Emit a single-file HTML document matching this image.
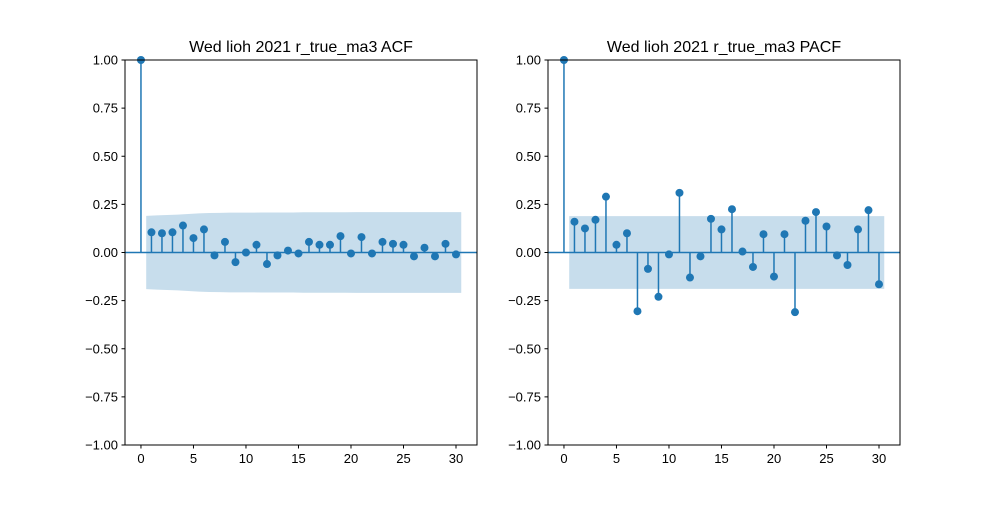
<!DOCTYPE html>
<html><head><meta charset="utf-8"><style>
body{margin:0;background:#fff;}
svg text{font-family:"Liberation Sans","DejaVu Sans",sans-serif;}
</style></head><body>
<svg id="fig" width="1000" height="500" viewBox="0 0 1000 500" xmlns="http://www.w3.org/2000/svg"></svg>
<script>
const lags = Array.from({length:31},(_,i)=>i);
const acfValues = [1,0.105,0.10,0.105,0.14,0.075,0.12,-0.015,0.055,-0.05,0.0,0.04,-0.06,-0.015,0.01,-0.005,0.055,0.04,0.04,0.085,-0.005,0.08,-0.005,0.055,0.045,0.04,-0.02,0.025,-0.02,0.045,-0.01];
const acfConf = [0.19,0.19,0.193,0.195,0.197,0.20,0.203,0.205,0.206,0.207,0.207,0.207,0.208,0.208,0.208,0.208,0.209,0.209,0.209,0.209,0.209,0.21,0.21,0.21,0.21,0.21,0.21,0.21,0.21,0.21,0.21];
const pacfValues = [1,0.16,0.125,0.17,0.29,0.04,0.10,-0.305,-0.085,-0.23,-0.01,0.31,-0.13,-0.02,0.175,0.12,0.225,0.005,-0.075,0.095,-0.125,0.095,-0.31,0.165,0.21,0.135,-0.015,-0.065,0.12,0.22,-0.165];
const pacfConf = [0.189,0.189,0.189,0.189,0.189,0.189,0.189,0.189,0.189,0.189,0.189,0.189,0.189,0.189,0.189,0.189,0.189,0.189,0.189,0.189,0.189,0.189,0.189,0.189,0.189,0.189,0.189,0.189,0.189,0.189,0.189];
const yTicks = [-1,-0.75,-0.5,-0.25,0,0.25,0.5,0.75,1];
const xTicks = [0,5,10,15,20,25,30];
const titles = ["Wed lioh 2021 r_true_ma3 ACF","Wed lioh 2021 r_true_ma3 PACF"];

const NS="http://www.w3.org/2000/svg";
const svg=document.getElementById('fig');
function mk(tag,attrs,parent){const e=document.createElementNS(NS,tag);for(const k in attrs)e.setAttribute(k,attrs[k]);(parent||svg).appendChild(e);return e;}

function panel(x0,x1,vals,conf,title,prefix){
  const y0=60,y1=445;
  const X=v=>x0+(v+1.52)/(33.52)*(x1-x0);
  const Y=v=>y0+(1-v)/2*(y1-y0);
  const g=mk('g',{});
  
  
  let up=[],dn=[];
  for(let i=1;i<lags.length;i++){up.push(X(lags[i]-0.5)+','+Y(conf[i]));dn.unshift(X(lags[i]-0.5)+','+Y(-conf[i]));}
  up.push(X(lags[lags.length-1]+0.5)+','+Y(conf[conf.length-1]));
  dn.unshift(X(lags[lags.length-1]+0.5)+','+Y(-conf[conf.length-1]));
  const band=mk('polygon',{points:up.concat(dn).join(' '),fill:'#1f77b4','fill-opacity':0.25},g);
  
  
  const zl=mk('line',{x1:x0,x2:x1,y1:Y(0),y2:Y(0),stroke:'#1f77b4','stroke-width':1.5},g);
  
  
  for(let i=0;i<lags.length;i++){
    const s=mk('line',{x1:X(lags[i]),x2:X(lags[i]),y1:Y(0),y2:Y(vals[i]),stroke:'#1f77b4','stroke-width':1.5},g);
    
    
    const c=mk('circle',{cx:X(lags[i]),cy:Y(vals[i]),r:4,fill:'#1f77b4'},g);
    
    
  }
  const fr=mk('rect',{x:x0,y:y0,width:x1-x0,height:y1-y0,fill:'none',stroke:'#000','stroke-width':1},g);
  
  
  yTicks.forEach(t=>{
    mk('line',{x1:x0-3.5,x2:x0,y1:Y(t),y2:Y(t),stroke:'#000'},g);
    const tx=mk('text',{x:x0-7,y:Y(t)+4.5,'text-anchor':'end','font-size':13},g);
    tx.textContent=t.toFixed(2).replace('-','\u2212');
    
    
  });
  xTicks.forEach(t=>{
    mk('line',{x1:X(t),x2:X(t),y1:y1,y2:y1+3.5,stroke:'#000'},g);
    const tx=mk('text',{x:X(t),y:y1+18,'text-anchor':'middle','font-size':13},g);
    tx.textContent=t;
    
    
  });
  const tt=mk('text',{x:(x0+x1)/2,y:52,'text-anchor':'middle','font-size':16},g);
  tt.textContent=title;
  
  
}
panel(125,477,acfValues,acfConf,titles[0],'acf');
panel(548,900,pacfValues,pacfConf,titles[1],'pacf');
</script>
</body></html>
